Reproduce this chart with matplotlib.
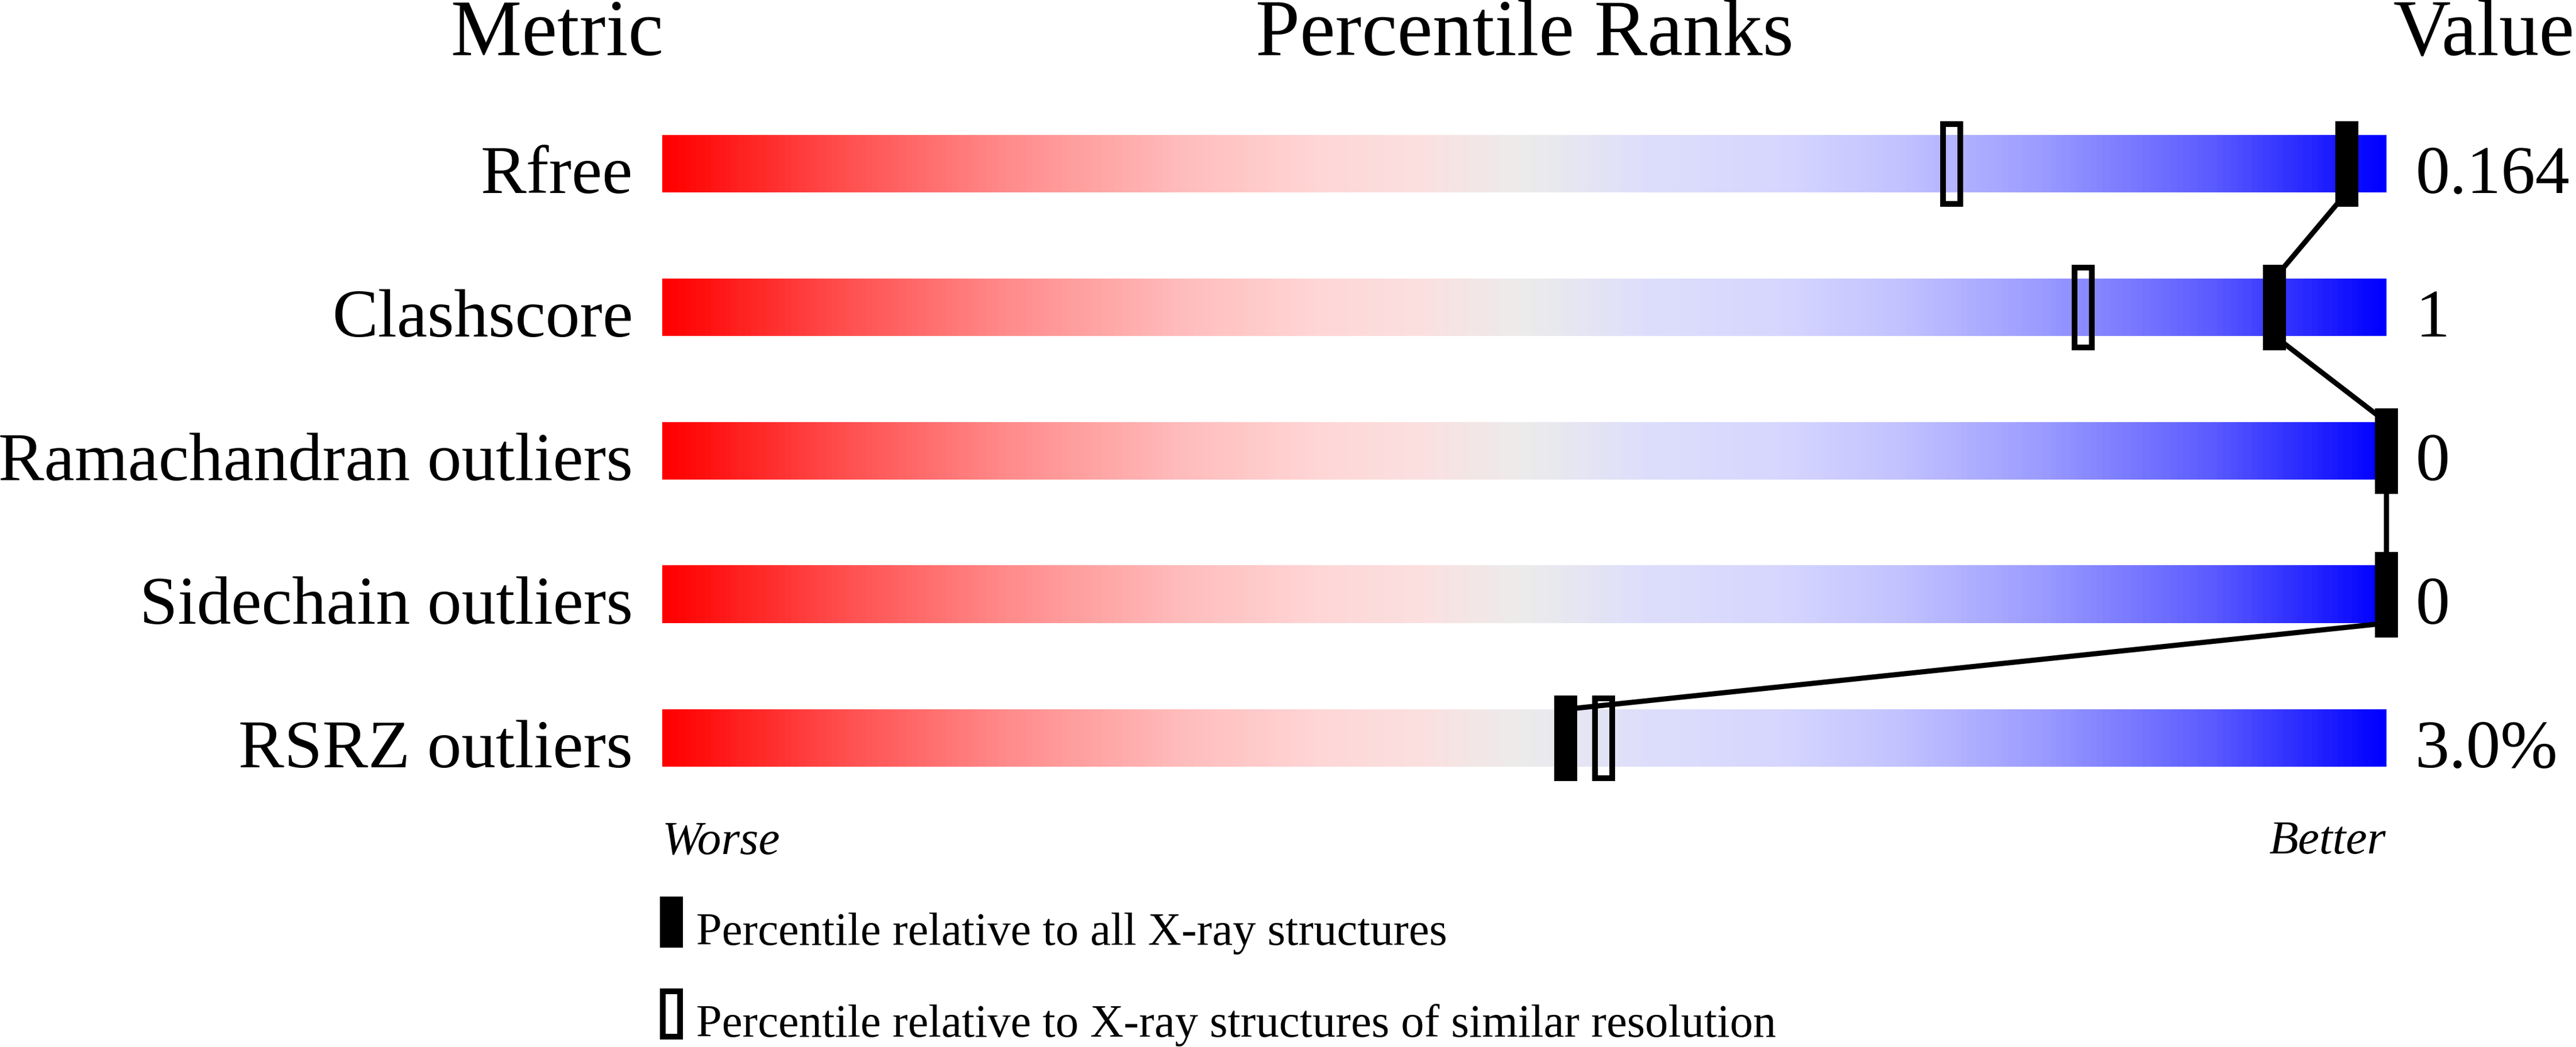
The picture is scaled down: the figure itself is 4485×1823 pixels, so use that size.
import numpy as np
import matplotlib as mpl
mpl.use("Agg")
import matplotlib.pyplot as plt
from matplotlib.patches import Rectangle
from matplotlib.colors import LinearSegmentedColormap

# data
metrics = ["Rfree", "Clashscore", "Ramachandran outliers", "Sidechain outliers", "RSRZ outliers"]
values = ["0.164", "1", "0", "0", "3.0%"]
pct_all = [97.7, 93.5, 100, 100, 52.4]      # percentile vs all X-ray structures (filled)
pct_similar = [74.8, 82.4, None, None, 54.6]  # percentile vs similar resolution (open)
legend_labels = ["Percentile relative to all X-ray structures",
                 "Percentile relative to X-ray structures of similar resolution"]

# slider colours, worse -> better
grad_stops = [(0.00, "#ff0000"), (0.10, "#ff4c4c"), (0.20, "#ff8c8c"), (0.30, "#ffbcbc"),
              (0.38, "#ffd6d6"), (0.44, "#fbe0e0"), (0.50, "#ececec"), (0.57, "#dedefb"),
              (0.65, "#d6d6ff"), (0.72, "#c2c2ff"), (0.80, "#9c9cff"), (0.90, "#5c5cff"),
              (1.00, "#0000ff")]
cmap = LinearSegmentedColormap.from_list("slider", grad_stops)

W, H, DPI = 4485, 1824, 100
PX_PCT = 30.02   # pixels per percentile
X0 = 1153        # pixel of percentile 0
ROW = 250        # pixels per row
Y0 = 286         # pixel of first row centre

SERIF = ["Liberation Serif", "DejaVu Serif"]

fig = plt.figure(figsize=(W / DPI, H / DPI), dpi=DPI)
ax = fig.add_axes([0, 0, 1, 1])
ax.axis("off")

bar_h = 100 / ROW
mk_w, mk_h = 40 / PX_PCT, 149 / ROW
lw_line = 9 * 72 / DPI
lw_edge = 10 * 72 / DPI

grad = np.linspace(0, 1, 600).reshape(1, -1)
for i, name in enumerate(metrics):
  ax.imshow(grad, cmap=cmap, aspect="auto", interpolation="nearest",
            extent=(0, 100, i + bar_h / 2, i - bar_h / 2), zorder=1)
  ax.text(-1.7, i + 0.2, name, ha="right", va="baseline", fontsize=86, family=SERIF)
  ax.text(101.67, i + 0.2, values[i], ha="left", va="baseline", fontsize=86, family=SERIF)

# connecting line: bottom of one bar to top of the next, at the filled marker
xs, ys = [], []
for i, p in enumerate(pct_all):
  xs += [p, p]
  ys += [i - bar_h / 2, i + bar_h / 2]
ax.plot(xs[1:-1], ys[1:-1], color="black", linewidth=lw_line, zorder=2,
        solid_joinstyle="miter", solid_capstyle="butt")

for i, (pa, ps) in enumerate(zip(pct_all, pct_similar)):
  ax.add_patch(Rectangle((pa - mk_w / 2, i - mk_h / 2), mk_w, mk_h,
                         facecolor="black", edgecolor="none", zorder=3))
  if ps is not None:
    ew, eh = 10 / PX_PCT, 10 / ROW
    ax.add_patch(Rectangle((ps - mk_w / 2 + ew / 2, i - mk_h / 2 + eh / 2), mk_w - ew, mk_h - eh,
                           facecolor="none", edgecolor="black", linewidth=lw_edge, zorder=3))

# headers
ax.text(-6.11, -0.76, "Metric", ha="center", va="baseline", fontsize=100, family=SERIF)
ax.text(50, -0.76, "Percentile Ranks", ha="center", va="baseline", fontsize=100, family=SERIF)
ax.text(110.9, -0.76, "Value", ha="right", va="baseline", fontsize=100, family=SERIF)

ax.text(0.0, 4.8, "Worse", ha="left", va="baseline", fontsize=60, style="italic", family=SERIF)
ax.text(99.95, 4.8, "Better", ha="right", va="baseline", fontsize=60, style="italic", family=SERIF)

# legend
lg_w, lg_h = 40 / PX_PCT, 89 / ROW
ax.add_patch(Rectangle((-0.133, 5.104), lg_w, lg_h, facecolor="black", edgecolor="none"))
ew, eh = 10 / PX_PCT, 10 / ROW
ax.add_patch(Rectangle((-0.133 + ew / 2, 5.744 + eh / 2), lg_w - ew, lg_h - eh,
                       facecolor="none", edgecolor="black", linewidth=lw_edge))
ax.text(1.965, 5.436, legend_labels[0], ha="left", va="baseline", fontsize=58, family=SERIF)
ax.text(1.965, 6.076, legend_labels[1], ha="left", va="baseline", fontsize=58, family=SERIF)

ax.set_xlim(-X0 / PX_PCT, (W - X0) / PX_PCT)
ax.set_ylim((H - Y0) / ROW, -Y0 / ROW)

fig.savefig("out.png", dpi=DPI, facecolor="white")
